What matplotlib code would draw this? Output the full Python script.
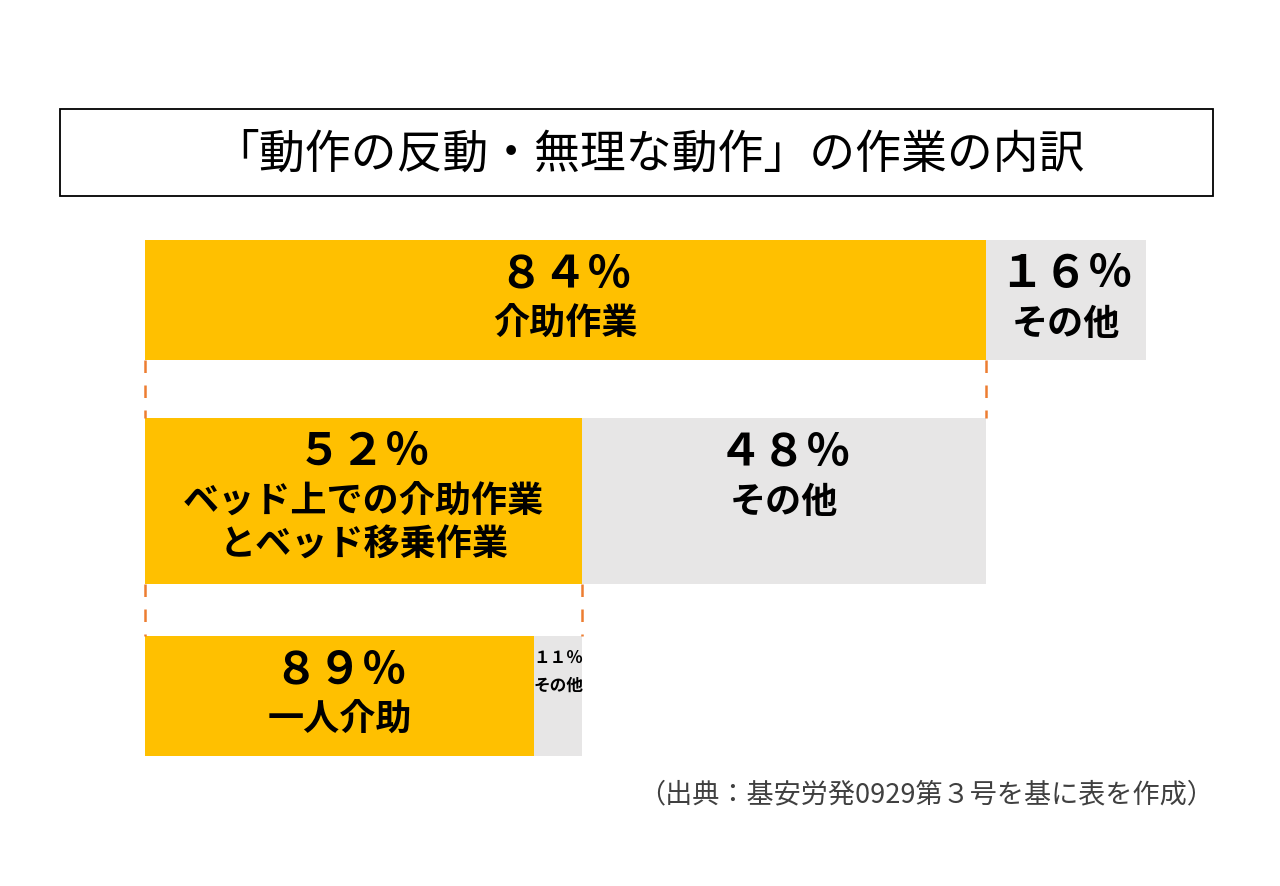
import matplotlib.pyplot as plt
from matplotlib.patches import Rectangle

plt.rcParams['font.family'] = ['Noto Sans CJK JP', 'DejaVu Sans']

# data (each row breaks down the yellow part of the row above)
title = '「動作の反動・無理な動作」の作業の内訳'
main_names = ['介助作業', 'ベッド上での介助作業\nとベッド移乗作業', '一人介助']
main_pct = [84, 52, 89]
other_pct = [16, 48, 11]
other_name = 'その他'
source = '（出典：基安労発0929第３号を基に表を作成）'

yellow = '#FFC000'
grey = '#E7E6E6'
orange = '#ED7D31'

W, H = 1280, 886
fig = plt.figure(figsize=(W / 100, H / 100), dpi=100)

# row layout in pixels (top, height)
row_top = [240, 418, 636]
row_h = [120, 166, 120]
big = [True, True, False]   # gray label size per row

ax = fig.add_axes([145 / W, 1 - 756 / H, (1146 - 145) / W, (756 - 240) / H])
ax.set_xlim(0, 100)
ax.set_ylim(756, 240)
ax.axis('off')

def fw(n):
    return str(n).translate(str.maketrans('0123456789', '０１２３４５６７８９')) + '％'

span = 100.0
prev = None
for i in range(len(main_pct)):
    top, h = row_top[i], row_h[i]
    yc = top + h / 2
    mw = span * main_pct[i] / 100
    ax.barh(yc, mw, height=h, left=0, color=yellow, edgecolor='none')
    ax.barh(yc, span - mw, height=h, left=mw, color=grey, edgecolor='none')

    # labels
    xm = mw / 2
    xo = mw + (span - mw) / 2
    ax.text(xm, top + 34, fw(main_pct[i]), ha='center', va='center',
            fontsize=32, fontweight='bold')
    ax.text(xm, top + 66, main_names[i], ha='center', va='top',
            fontsize=26, fontweight='bold', linespacing=1.2)
    if big[i]:
        ax.text(xo, top + 34, fw(other_pct[i]), ha='center', va='center',
                fontsize=32, fontweight='bold')
        ax.text(xo, top + 66, other_name, ha='center', va='top',
                fontsize=26, fontweight='bold')
    else:
        ax.text(xo, top + 22, fw(other_pct[i]), ha='center', va='center',
                fontsize=12, fontweight='bold', clip_on=False)
        ax.text(xo, top + 50, other_name, ha='center', va='center',
                fontsize=12, fontweight='bold', clip_on=False)

    # dashed connectors from the row above
    if prev is not None:
        ptop, ph = prev
        for xx in (0, span):
            ax.plot([xx, xx], [ptop + ph, top], color=orange, lw=1.8,
                    ls=(0, (5, 5)), clip_on=False)
    prev = (top, h)
    span = mw

# title box
fig.patches.append(Rectangle((60 / W, 1 - 196 / H), (1213 - 60) / W, 87 / H,
                             transform=fig.transFigure, fill=False,
                             edgecolor='black', lw=1.3))
fig.text(649 / W, 1 - 154 / H, title, ha='center', va='center', fontsize=33)

fig.text(1214 / W, 1 - 795 / H, source, ha='right', va='center',
         fontsize=19.5, color='#404040')

fig.savefig('out.png', dpi=100, facecolor='white')
